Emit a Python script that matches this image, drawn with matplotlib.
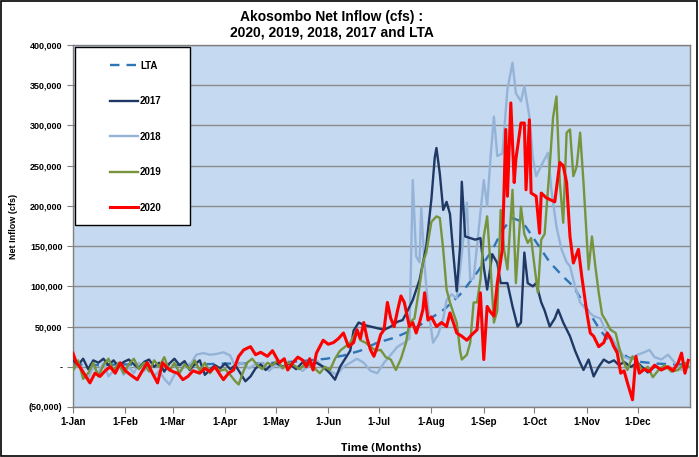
import matplotlib
matplotlib.use('Agg')
import matplotlib.pyplot as plt
from matplotlib.patches import Rectangle
import numpy as np

# day-of-year readings (0 = 1-Jan), values in thousand cfs
lta_days = [0, 15, 30, 45, 60, 75, 90, 105, 120, 135, 150, 160, 170, 180, 190, 200, 210, 220, 230,
            240, 248, 254, 260, 266, 274, 282, 290, 296, 304, 312, 320, 328, 336, 345, 355, 364]
lta_vals = [3, 2, 3, 2, 2, 3, 4, 4, 5, 7, 10, 14, 20, 30, 36, 45, 58, 72, 92,
            120, 145, 170, 185, 180, 155, 130, 112, 100, 72, 45, 25, 12, 6, 4, 3, 3]

y2017_days = [0, 3, 6, 9, 12, 15, 18, 21, 24, 27, 30, 33, 36, 39, 42, 45, 48, 51, 54, 57, 60, 63,
              66, 69, 72, 75, 78, 81, 84, 87, 90, 93, 96, 99, 102, 105, 108, 111, 114, 117, 120,
              124, 128, 132, 136, 140, 144, 148, 152, 155, 158, 161, 164, 166, 169, 172, 176, 180,
              184, 188, 192, 195, 198, 201, 205, 209, 212, 214, 215, 217, 219, 221, 223, 225, 227,
              229, 230, 232, 235, 238, 241, 243, 245, 248, 251, 253, 257, 260, 263, 265, 267, 269,
              272, 274, 277, 279, 282, 285, 287, 290, 294, 297, 300, 302, 305, 308, 311, 314, 317,
              320, 323, 326, 330, 334, 338, 340, 344]
y2017_vals = [8, 2, 10, -3, 8, 5, 10, 2, 8, 0, 6, 9, 3, -2, 6, 9, 0, 5, -6, 4, 10, 2,
              7, -4, 3, 8, -10, -4, 2, -2, 4, -3, 2, -8, -18, -12, -2, 3, -4, 2, 5,
              0, 4, -3, 6, 2, 5, 0, -8, -16, 0, 10, 20, 45, 55, 52, 50, 48,
              46, 50, 56, 58, 70, 83, 108, 150, 208, 260, 272, 240, 195, 205, 190, 140, 94,
              150, 230, 162, 160, 158, 160, 124, 96, 140, 129, 104, 104, 75, 50, 55, 142, 104,
              100, 104, 80, 70, 50, 60, 71, 55, 38, 20, 5, -4, 9, -12, 0, 9, 5,
              8, 2, 6, 0, 5, -3, -7, 0]

y2018_days = [0, 3, 6, 9, 12, 15, 18, 21, 24, 27, 30, 33, 36, 39, 42, 45, 48, 51, 54, 57, 60, 63,
              66, 70, 73, 77, 81, 85, 89, 93, 96, 100, 104, 108, 112, 116, 120, 124, 128, 132, 136,
              140, 144, 148, 152, 156, 160, 164, 168, 172, 176, 180, 184, 188, 192, 196, 199, 201,
              203, 205, 206, 208, 210, 213, 216, 219, 221, 224, 227, 230, 233, 235, 237, 239, 241,
              243, 245, 247, 249, 251, 254, 257, 260, 262, 265, 267, 270, 272, 274, 277, 281, 283,
              286, 289, 292, 294, 297, 300, 304, 308, 312, 315, 318, 322, 326, 330, 334, 338, 341,
              344, 348, 352, 356, 360, 364]
y2018_vals = [-5, 5, -10, -15, 0, -8, 5, -12, -5, 3, -10, 0, -8, 5, -5, 0, -12, -5, -15, -22, -10, -5,
              0, 5, 15, 17, 15, 16, 18, 14, 0, 5, -2, 3, 5, -5, 3, -2, 5, 0, -5,
              3, 8, 0, -5, -10, 0, 5, 10, 5, -5, -8, 5, 15, 25, 30, 35, 232,
              137, 130, 198, 125, 75, 30, 40, 60, 83, 90, 85, 140, 204, 108, 110, 150, 191,
              232, 200, 260, 311, 262, 265, 345, 378, 340, 330, 349, 311, 260, 237, 250, 266, 220,
              174, 146, 130, 125, 100, 80, 70, 63, 60, 45, 38, 25, 12, 9, 15, 18, 21,
              12, 9, 15, 5, -4, 0]

y2019_days = [0, 3, 6, 9, 12, 15, 18, 21, 24, 27, 30, 33, 36, 39, 42, 45, 48, 51, 54, 57, 60, 63,
              66, 69, 72, 75, 78, 81, 84, 87, 90, 93, 96, 98, 100, 103, 106, 109, 112, 115, 118,
              121, 124, 127, 130, 134, 138, 142, 146, 149, 152, 155, 158, 161, 164, 168, 170, 173,
              176, 179, 182, 185, 188, 191, 194, 197, 199, 202, 205, 207, 209, 212, 215, 217, 219,
              221, 223, 225, 227, 229, 230, 233, 235, 237, 239, 241, 243, 245, 247, 249, 251, 253,
              255, 257, 260, 262, 265, 267, 269, 271, 273, 275, 277, 279, 282, 284, 286, 288, 290,
              292, 294, 296, 298, 300, 302, 305, 307, 309, 311, 313, 315, 318, 321, 323, 325, 328,
              331, 334, 337, 340, 343, 346, 350, 354, 358, 362, 364]
y2019_vals = [-5, 8, -15, -8, 5, -12, 2, 10, -5, 5, -8, 3, 10, -3, 5, -6, 8, 0, 12, -5, 5, -8,
              3, -3, 8, -5, 5, -8, 0, -5, -3, -10, -18, -22, -10, 5, 10, 2, -3, 5, 2,
              8, -2, 5, 3, -3, 5, 0, -8, 0, -4, 10, 20, 25, 30, 46, 33, 30,
              25, 20, 21, 12, 9, -4, 10, 30, 55, 60, 100, 130, 142, 180, 187, 185, 146,
              96, 80, 67, 55, 20, 9, 15, 30, 80, 80, 108, 162, 187, 125, 55, 70, 195,
              146, 121, 220, 104, 199, 165, 154, 160, 125, 92, 158, 165, 249, 310, 336, 229, 179,
              291, 295, 237, 249, 291, 229, 121, 162, 125, 92, 65, 58, 46, 42, 25, 9, -4,
              13, 5, -5, 0, -13, -5, 2, -6, -4, 5, 0]

y2020_days = [0, 2, 4, 7, 10, 13, 16, 19, 22, 25, 28, 31, 34, 38, 41, 44, 47, 50, 53, 56, 59, 62,
              65, 68, 71, 75, 78, 81, 84, 87, 89, 92, 95, 98, 101, 105, 108, 111, 115, 118, 122,
              125, 127, 130, 133, 136, 138, 140, 142, 144, 146, 148, 151, 154, 157, 160, 163, 166,
              168, 170, 172, 174, 176, 178, 180, 182, 184, 186, 188, 190, 192, 194, 196, 199, 201,
              203, 205, 207, 208, 210, 212, 215, 218, 221, 223, 225, 227, 230, 233, 236, 239, 241,
              243, 245, 247, 249, 251, 254, 256, 257, 259, 261, 262, 265, 267, 268, 270, 271, 274,
              276, 277, 280, 282, 285, 288, 290, 292, 294, 296, 299, 301, 304, 306, 308, 311, 314,
              316, 318, 320, 322, 324, 326, 328, 331, 333, 335, 338, 341, 344, 348, 352, 355, 358,
              360, 362, 364]
y2020_vals = [17, 5, 0, -10, -20, -8, -12, -5, 0, -8, 5, -5, -10, -16, -5, 5, -8, -20, 5, -2, -6, -8,
              -16, -12, -5, -8, -2, -6, 0, -10, -16, -8, -4, 13, 21, 25, 15, 18, 13, 20, 5,
              10, -4, 5, 12, 8, 0, 10, -4, 17, 25, 33, 28, 30, 35, 42, 25, 30,
              46, 35, 55, 35, 21, 13, 25, 40, 46, 80, 60, 50, 70, 88, 80, 50, 55,
              42, 55, 71, 92, 58, 62, 50, 55, 50, 67, 55, 42, 38, 33, 40, 46, 92,
              9, 75, 68, 63, 104, 146, 295, 212, 328, 229, 258, 303, 303, 220, 307, 216, 212,
              166, 216, 210, 208, 205, 254, 250, 229, 162, 129, 146, 112, 67, 42, 38, 25, 30,
              42, 35, 25, 17, -8, -5, -20, -41, 13, -8, -3, -6, 2, -4, 0, -5, 5,
              17, -8, 8]

month_starts = [0, 31, 59, 90, 120, 151, 181, 212, 243, 273, 304, 334]
month_labels = ['1-Jan', '1-Feb', '1-Mar', '1-Apr', '1-May', '1-Jun',
                '1-Jul', '1-Aug', '1-Sep', '1-Oct', '1-Nov', '1-Dec']
y_ticks = [-50000, 0, 50000, 100000, 150000, 200000, 250000, 300000, 350000, 400000]
y_labels = ['(50,000)', '-', '50,000', '100,000', '150,000', '200,000',
            '250,000', '300,000', '350,000', '400,000']

plt.rcParams['font.family'] = ['Liberation Sans', 'DejaVu Sans']

fig = plt.figure(figsize=(6.99, 4.57), dpi=100)
ax = fig.add_axes([73 / 699, 1 - 407 / 457, 617 / 699, 362 / 457])
ax.set_facecolor('#C5D9F1')

k = 1000
ax.plot(lta_days, np.array(lta_vals) * k, color='#2E75B6', lw=1.7, ls=(0, (4, 3)), zorder=2, label='LTA')
ax.plot(y2018_days, np.array(y2018_vals) * k, color='#95B3D7', lw=1.7, zorder=3, label='2018')
ax.plot(y2017_days, np.array(y2017_vals) * k, color='#1F3864', lw=1.7, zorder=4, label='2017')
ax.plot(y2019_days, np.array(y2019_vals) * k, color='#77933C', lw=1.7, zorder=5, label='2019')
ax.plot(y2020_days, np.array(y2020_vals) * k, color='#FF0000', lw=2.2, zorder=6, label='2020')

ax.set_xlim(0, 365)
ax.set_ylim(-50000, 400000)
ax.set_xticks(month_starts)
ax.set_xticklabels(month_labels, fontsize=7, fontweight='bold')
ax.set_yticks(y_ticks)
ax.set_yticklabels(y_labels, fontsize=6.5, fontweight='bold')
ax.tick_params(axis='both', direction='out', length=4, color='#808080', width=0.8)
ax.tick_params(axis='x', pad=3)
ax.yaxis.grid(True, color='#8C8C8C', lw=1)
ax.set_axisbelow(True)
for s in ax.spines.values():
    s.set_color('#808080')
    s.set_linewidth(1)

ax.set_ylabel('Net Inflow (cfs)', fontsize=6.5, fontweight='bold', labelpad=8)
ax.set_xlabel('Time (Months)', fontsize=8, fontweight='bold', family=['Open Sans', 'DejaVu Sans'], labelpad=12)

fig.text(0.475, 0.978, 'Akosombo Net Inflow (cfs) :\n2020, 2019, 2018, 2017 and LTA',
         ha='center', va='top', fontsize=10, fontweight='bold', linespacing=1.1)

# legend box
ax.add_patch(Rectangle((2 / 617, 182 / 362), 115 / 617, 178 / 362, transform=ax.transAxes,
                       facecolor='white', edgecolor='black', lw=1, zorder=7))
handles, labels = ax.get_legend_handles_labels()
order = [0, 2, 1, 3, 4]
leg = ax.legend([handles[i] for i in order], [labels[i] for i in order],
                loc='upper left', bbox_to_anchor=(28 / 617, 355 / 362), frameon=False,
                prop={'size': 7, 'weight': 'bold'}, handlelength=2.9, handletextpad=0.2,
                labelspacing=2.62)
leg.set_zorder(8)

fig.patches.append(Rectangle((0.002, 0.003), 0.995, 0.994, transform=fig.transFigure,
                             fill=False, edgecolor='black', lw=1.2))

fig.savefig('out.png', dpi=100)
